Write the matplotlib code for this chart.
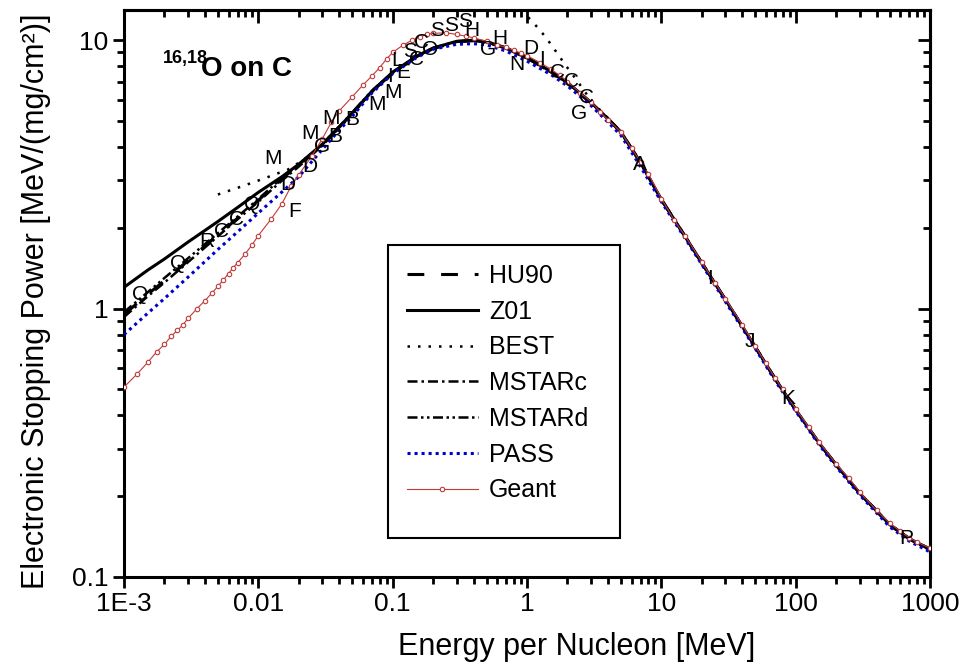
import numpy as np
import matplotlib
matplotlib.use("Agg")
import matplotlib.pyplot as plt
from matplotlib.ticker import FixedLocator, NullFormatter, FixedFormatter
from matplotlib.patches import Rectangle

plt.rcParams['font.family'] = ['Liberation Sans', 'DejaVu Sans']

# ---------------- data ----------------
# Z01 (solid)
e_z01 = [0.001, 0.0015, 0.002, 0.003, 0.005, 0.007, 0.01, 0.015, 0.02, 0.03, 0.04, 0.05, 0.07,
         0.1, 0.15, 0.2, 0.3, 0.4, 0.5, 0.7, 1.0, 1.5, 2, 3, 4, 5, 7, 10, 15, 20, 30, 50, 70,
         100, 150, 200, 300, 500, 700, 1000]
s_z01 = [1.2, 1.39, 1.53, 1.77, 2.11, 2.38, 2.71, 3.1, 3.45, 4.1, 4.75, 5.35, 6.45,
         7.6, 8.7, 9.35, 9.9, 10.0, 9.85, 9.35, 8.6, 7.65, 6.95, 5.85, 5.1, 4.55, 3.5, 2.55,
         1.86, 1.48, 1.08, 0.72, 0.55, 0.42, 0.315, 0.262, 0.205, 0.157, 0.139, 0.127]

# HU90 (long dash)
e_hu90 = [0.001, 0.0015, 0.002, 0.003, 0.005, 0.007, 0.01, 0.015, 0.02, 0.03, 0.04, 0.05, 0.07,
          0.1, 0.15, 0.2, 0.3, 0.4, 0.5, 0.7, 1.0, 1.5, 2, 3, 4, 5, 7, 10, 15, 20, 30, 50, 70,
          100, 150, 200, 300, 500, 700, 1000]
s_hu90 = [0.95, 1.13, 1.27, 1.51, 1.88, 2.17, 2.53, 3.05, 3.42, 4.08, 4.75, 5.35, 6.45,
          7.55, 8.65, 9.3, 9.85, 9.95, 9.85, 9.35, 8.6, 7.65, 6.95, 5.85, 5.1, 4.55, 3.5, 2.55,
          1.86, 1.48, 1.08, 0.72, 0.55, 0.42, 0.315, 0.262, 0.205, 0.157, 0.139, 0.127]

# BEST (dotted) - low-energy branch and high-energy branch
e_best_lo = [0.005, 0.0075, 0.011, 0.0167, 0.022, 0.03, 0.04, 0.05, 0.07, 0.1]
s_best_lo = [2.66, 2.85, 3.05, 3.3, 3.6, 4.05, 4.7, 5.3, 6.4, 7.5]
e_best_hi = [0.95, 1.0, 1.25, 1.45, 1.67, 1.9, 2.2, 2.6, 3.0, 4, 5, 7, 10, 15, 20, 30, 50, 70,
             100, 150, 200, 300, 500, 700, 1000]
s_best_hi = [13.2, 12.3, 10.9, 9.9, 8.97, 8.17, 7.4, 6.6, 5.95, 5.12, 4.56, 3.5, 2.55, 1.86, 1.48,
             1.08, 0.72, 0.55, 0.42, 0.315, 0.262, 0.205, 0.157, 0.139, 0.127]

# MSTARc (dash-dot)
e_mstarc = [0.001, 0.0015, 0.002, 0.003, 0.005, 0.007, 0.01, 0.015, 0.02, 0.03, 0.04, 0.05, 0.07,
            0.1, 0.15, 0.2, 0.3, 0.4, 0.5, 0.7, 1.0, 1.5, 2, 3, 4, 5, 7, 10, 15, 20, 30, 50, 70,
            100, 150, 200, 300, 500, 700, 1000]
s_mstarc = [0.93, 1.11, 1.25, 1.49, 1.86, 2.15, 2.5, 3.0, 3.38, 4.05, 4.72, 5.32, 6.42,
            7.55, 8.65, 9.3, 9.85, 9.95, 9.8, 9.3, 8.55, 7.6, 6.9, 5.8, 5.08, 4.52, 3.48, 2.54,
            1.85, 1.47, 1.075, 0.716, 0.547, 0.418, 0.313, 0.26, 0.204, 0.156, 0.138, 0.126]

# MSTARd (dash-dot-dot)
e_mstard = [0.001, 0.0015, 0.002, 0.003, 0.005, 0.007, 0.01, 0.015, 0.02, 0.03, 0.04, 0.05, 0.07,
            0.1, 0.15, 0.2, 0.3, 0.4, 0.5, 0.7, 1.0, 1.5, 2, 3, 4, 5, 7, 10, 15, 20, 30, 50, 70,
            100, 150, 200, 300, 500, 700, 1000]
s_mstard = [0.97, 1.15, 1.3, 1.54, 1.91, 2.2, 2.56, 3.07, 3.44, 4.1, 4.77, 5.37, 6.47,
            7.6, 8.7, 9.35, 9.9, 10.0, 9.85, 9.35, 8.6, 7.65, 6.95, 5.85, 5.1, 4.55, 3.5, 2.55,
            1.86, 1.48, 1.08, 0.72, 0.55, 0.42, 0.315, 0.262, 0.205, 0.157, 0.139, 0.127]

# PASS (blue dotted)
e_pass = [0.001, 0.0015, 0.002, 0.003, 0.005, 0.007, 0.01, 0.015, 0.02, 0.03, 0.04, 0.05, 0.07,
          0.1, 0.15, 0.2, 0.3, 0.4, 0.5, 0.7, 1.0, 1.5, 2, 3, 4, 5, 7, 10, 15, 20, 30, 50, 70,
          100, 150, 200, 300, 500, 700, 1000]
s_pass = [0.8, 0.96, 1.09, 1.31, 1.66, 1.93, 2.27, 2.72, 3.1, 3.92, 4.62, 5.2, 6.35,
          7.5, 8.6, 9.25, 9.65, 9.7, 9.6, 9.1, 8.35, 7.45, 6.75, 5.7, 4.95, 4.42, 3.38, 2.5,
          1.83, 1.46, 1.06, 0.71, 0.54, 0.415, 0.31, 0.258, 0.202, 0.154, 0.136, 0.124]

# Geant (red line with open circles)
e_geant = [0.001, 0.00125, 0.0015, 0.00175, 0.002, 0.00225, 0.0025, 0.00275, 0.003, 0.0035,
           0.004, 0.0045, 0.005, 0.0055, 0.006, 0.0065, 0.007, 0.008, 0.009, 0.01, 0.0125,
           0.015, 0.0175, 0.02, 0.025, 0.03, 0.035, 0.04, 0.05, 0.06, 0.07, 0.08, 0.09, 0.1,
           0.12, 0.14, 0.16, 0.18, 0.2, 0.25, 0.3, 0.35, 0.4, 0.5, 0.6, 0.7, 0.8, 0.9, 1.0,
           1.25, 1.5, 1.75, 2.0, 2.5, 3.0, 3.5, 4.0, 5.0, 6.0, 7.0, 8.0, 10, 12.5, 15, 20, 25,
           30, 40, 50, 60, 70, 80, 100, 125, 150, 200, 250, 300, 400, 500, 600, 700, 800, 1000]
s_geant = [0.51, 0.57, 0.63, 0.69, 0.735, 0.79, 0.83, 0.87, 0.92, 1.0,
           1.07, 1.14, 1.21, 1.28, 1.35, 1.42, 1.48, 1.6, 1.73, 1.87, 2.16,
           2.46, 2.85, 3.15, 3.7, 4.3, 4.95, 5.45, 6.15, 6.8, 7.35, 7.9, 8.5, 9.0,
           9.6, 10.0, 10.3, 10.5, 10.6, 10.65, 10.5, 10.35, 10.2, 9.9, 9.6, 9.4, 9.15, 8.95, 8.75,
           8.25, 7.8, 7.4, 7.0, 6.35, 5.9, 5.4, 5.05, 4.55, 3.95, 3.52, 3.18, 2.57, 2.13, 1.87, 1.49, 1.25,
           1.09, 0.87, 0.725, 0.625, 0.553, 0.5, 0.423, 0.362, 0.318, 0.264, 0.233, 0.207, 0.177, 0.159, 0.148, 0.14, 0.135, 0.128]

# experimental data letters
let_txt = ['Q', 'Q', 'R', 'C', 'C', 'Q', 'M', 'D', 'F', 'D', 'M', 'G', 'B', 'M', 'B', 'M', 'M', 'I',
           'E', 'L', 'C', 'S', 'O', 'C', 'S', 'S', 'S', 'H', 'G', 'H', 'N', 'D', 'I', 'C', 'C', 'C', 'G',
           'A', 'I', 'J', 'K', 'P']
let_e = [0.00132, 0.00252, 0.00415, 0.00535, 0.0069, 0.009, 0.0128, 0.0167, 0.0187, 0.0242, 0.0242,
         0.030, 0.0373, 0.035, 0.0498, 0.076, 0.1, 0.095, 0.12, 0.108, 0.15, 0.135, 0.19, 0.165, 0.215,
         0.27, 0.345, 0.39, 0.51, 0.63, 0.84, 1.06, 1.3, 1.7, 2.15, 2.75, 2.45,
         6.95, 23, 45.8, 88, 670]
let_s = [1.13, 1.47, 1.78, 1.94, 2.14, 2.44, 3.62, 2.9, 2.3, 3.38, 4.5, 4.0, 4.37, 5.1, 5.05, 5.75,
         6.4, 7.3, 7.6, 8.4, 8.5, 9.1, 9.2, 9.8, 10.9, 11.3, 11.7, 10.9, 9.2, 10.1, 8.1, 9.3, 8.5, 7.6,
         7.0, 6.1, 5.35, 3.44, 1.29, 0.754, 0.462, 0.139]

x_ticks = [1e-3, 1e-2, 1e-1, 1, 10, 100, 1000]
x_ticklabels = ['1E-3', '0.01', '0.1', '1', '10', '100', '1000']
y_ticks = [0.1, 1, 10]
y_ticklabels = ['0.1', '1', '10']

# ---------------- figure ----------------
fig = plt.figure(figsize=(9.6, 6.67), dpi=100)
ax = fig.add_axes([124/960, 1-577/667, 806/960, 567/667])
ax.set_xscale('log')
ax.set_yscale('log')
ax.set_xlim(1e-3, 1000)
ax.set_ylim(0.1, 12.95)

ax.plot(e_hu90, s_hu90, color='black', lw=2.2, linestyle=(0, (5.5, 5.5)), label='HU90', zorder=3)
ax.plot(e_z01, s_z01, color='black', lw=2.2, linestyle='-', label='Z01', zorder=3)
ax.plot(e_best_lo, s_best_lo, color='black', lw=1.8, linestyle=(0, (1, 3.2)), label='BEST', zorder=3)
ax.plot(e_best_hi, s_best_hi, color='black', lw=1.8, linestyle=(0, (1, 3.2)), zorder=3)
ax.plot(e_mstarc, s_mstarc, color='black', lw=1.8, linestyle=(0, (4, 1.6, 1, 1.6)), label='MSTARc', zorder=3)
ax.plot(e_mstard, s_mstard, color='black', lw=1.8, linestyle=(0, (4, 1.4, 1, 1.4, 1, 1.4)), label='MSTARd', zorder=3)
ax.plot(e_pass, s_pass, color='#0000cc', lw=2.2, linestyle=(0, (1, 1.3)), label='PASS', zorder=4)
ax.plot(e_geant, s_geant, color='#c03a3a', lw=0.8, marker='o', ms=3.2, mfc='white',
        mec='#c03a3a', mew=0.8, label='Geant', zorder=5)

for t, e, s in zip(let_txt, let_e, let_s):
    ax.text(e, s, t, fontsize=15, ha='center', va='center', color='black', zorder=6)

# ticks
minor_x = [m * 10.0**k for k in range(-3, 3) for m in range(2, 10)]
minor_y = [m * 10.0**k for k in range(-1, 2) for m in range(2, 10)]
ax.xaxis.set_major_locator(FixedLocator(x_ticks))
ax.xaxis.set_major_formatter(FixedFormatter(x_ticklabels))
ax.xaxis.set_minor_locator(FixedLocator(minor_x))
ax.xaxis.set_minor_formatter(NullFormatter())
ax.yaxis.set_major_locator(FixedLocator(y_ticks))
ax.yaxis.set_major_formatter(FixedFormatter(y_ticklabels))
ax.yaxis.set_minor_locator(FixedLocator(minor_y))
ax.yaxis.set_minor_formatter(NullFormatter())
ax.tick_params(which='major', direction='out', length=8, width=2, labelsize=19, pad=3)
ax.tick_params(which='minor', direction='out', length=5, width=2)

for sp in ax.spines.values():
    sp.set_linewidth(2.2)

secx = ax.secondary_xaxis('top')
secx.xaxis.set_major_locator(FixedLocator(x_ticks))
secx.xaxis.set_minor_locator(FixedLocator(minor_x))
secx.xaxis.set_major_formatter(NullFormatter())
secx.xaxis.set_minor_formatter(NullFormatter())
secx.tick_params(which='major', direction='in', length=9, width=2)
secx.tick_params(which='minor', direction='in', length=5, width=2)
secx.spines['top'].set_linewidth(2.2)

secy = ax.secondary_yaxis('right')
secy.yaxis.set_major_locator(FixedLocator(y_ticks))
secy.yaxis.set_minor_locator(FixedLocator(minor_y))
secy.yaxis.set_major_formatter(NullFormatter())
secy.yaxis.set_minor_formatter(NullFormatter())
secy.tick_params(which='major', direction='in', length=9, width=2)
secy.tick_params(which='minor', direction='in', length=5, width=2)
secy.spines['right'].set_linewidth(2.2)

ax.set_xlabel('Energy per Nucleon [MeV]', fontsize=22)
ax.xaxis.set_label_coords(0.561, -0.097)
ax.set_ylabel('Electronic Stopping Power [MeV/(mg/cm²)]', fontsize=22)
ax.yaxis.set_label_coords(-0.09, 0.487)

ax.text(0.048, 0.907, '16,18', transform=ax.transAxes, fontsize=13, fontweight='bold',
        ha='left', va='baseline')
ax.text(0.096, 0.884, 'O on C', transform=ax.transAxes, fontsize=20, fontweight='bold',
        ha='left', va='baseline')

# legend (drawn without its own frame; box drawn separately)
leg = ax.legend(loc='upper left', bbox_to_anchor=(0.3275, 0.5855), fontsize=18,
                frameon=False, handlelength=2.85, handletextpad=0.45, labelspacing=0.47,
                borderpad=0.75, borderaxespad=0, numpoints=1)
ax.add_patch(Rectangle((0.3275, 0.0688), 0.2878, 0.5167, transform=ax.transAxes,
                       facecolor='white', edgecolor='black', lw=1.5, zorder=7))
leg.set_zorder(8)

fig.savefig('out.png', dpi=100)
